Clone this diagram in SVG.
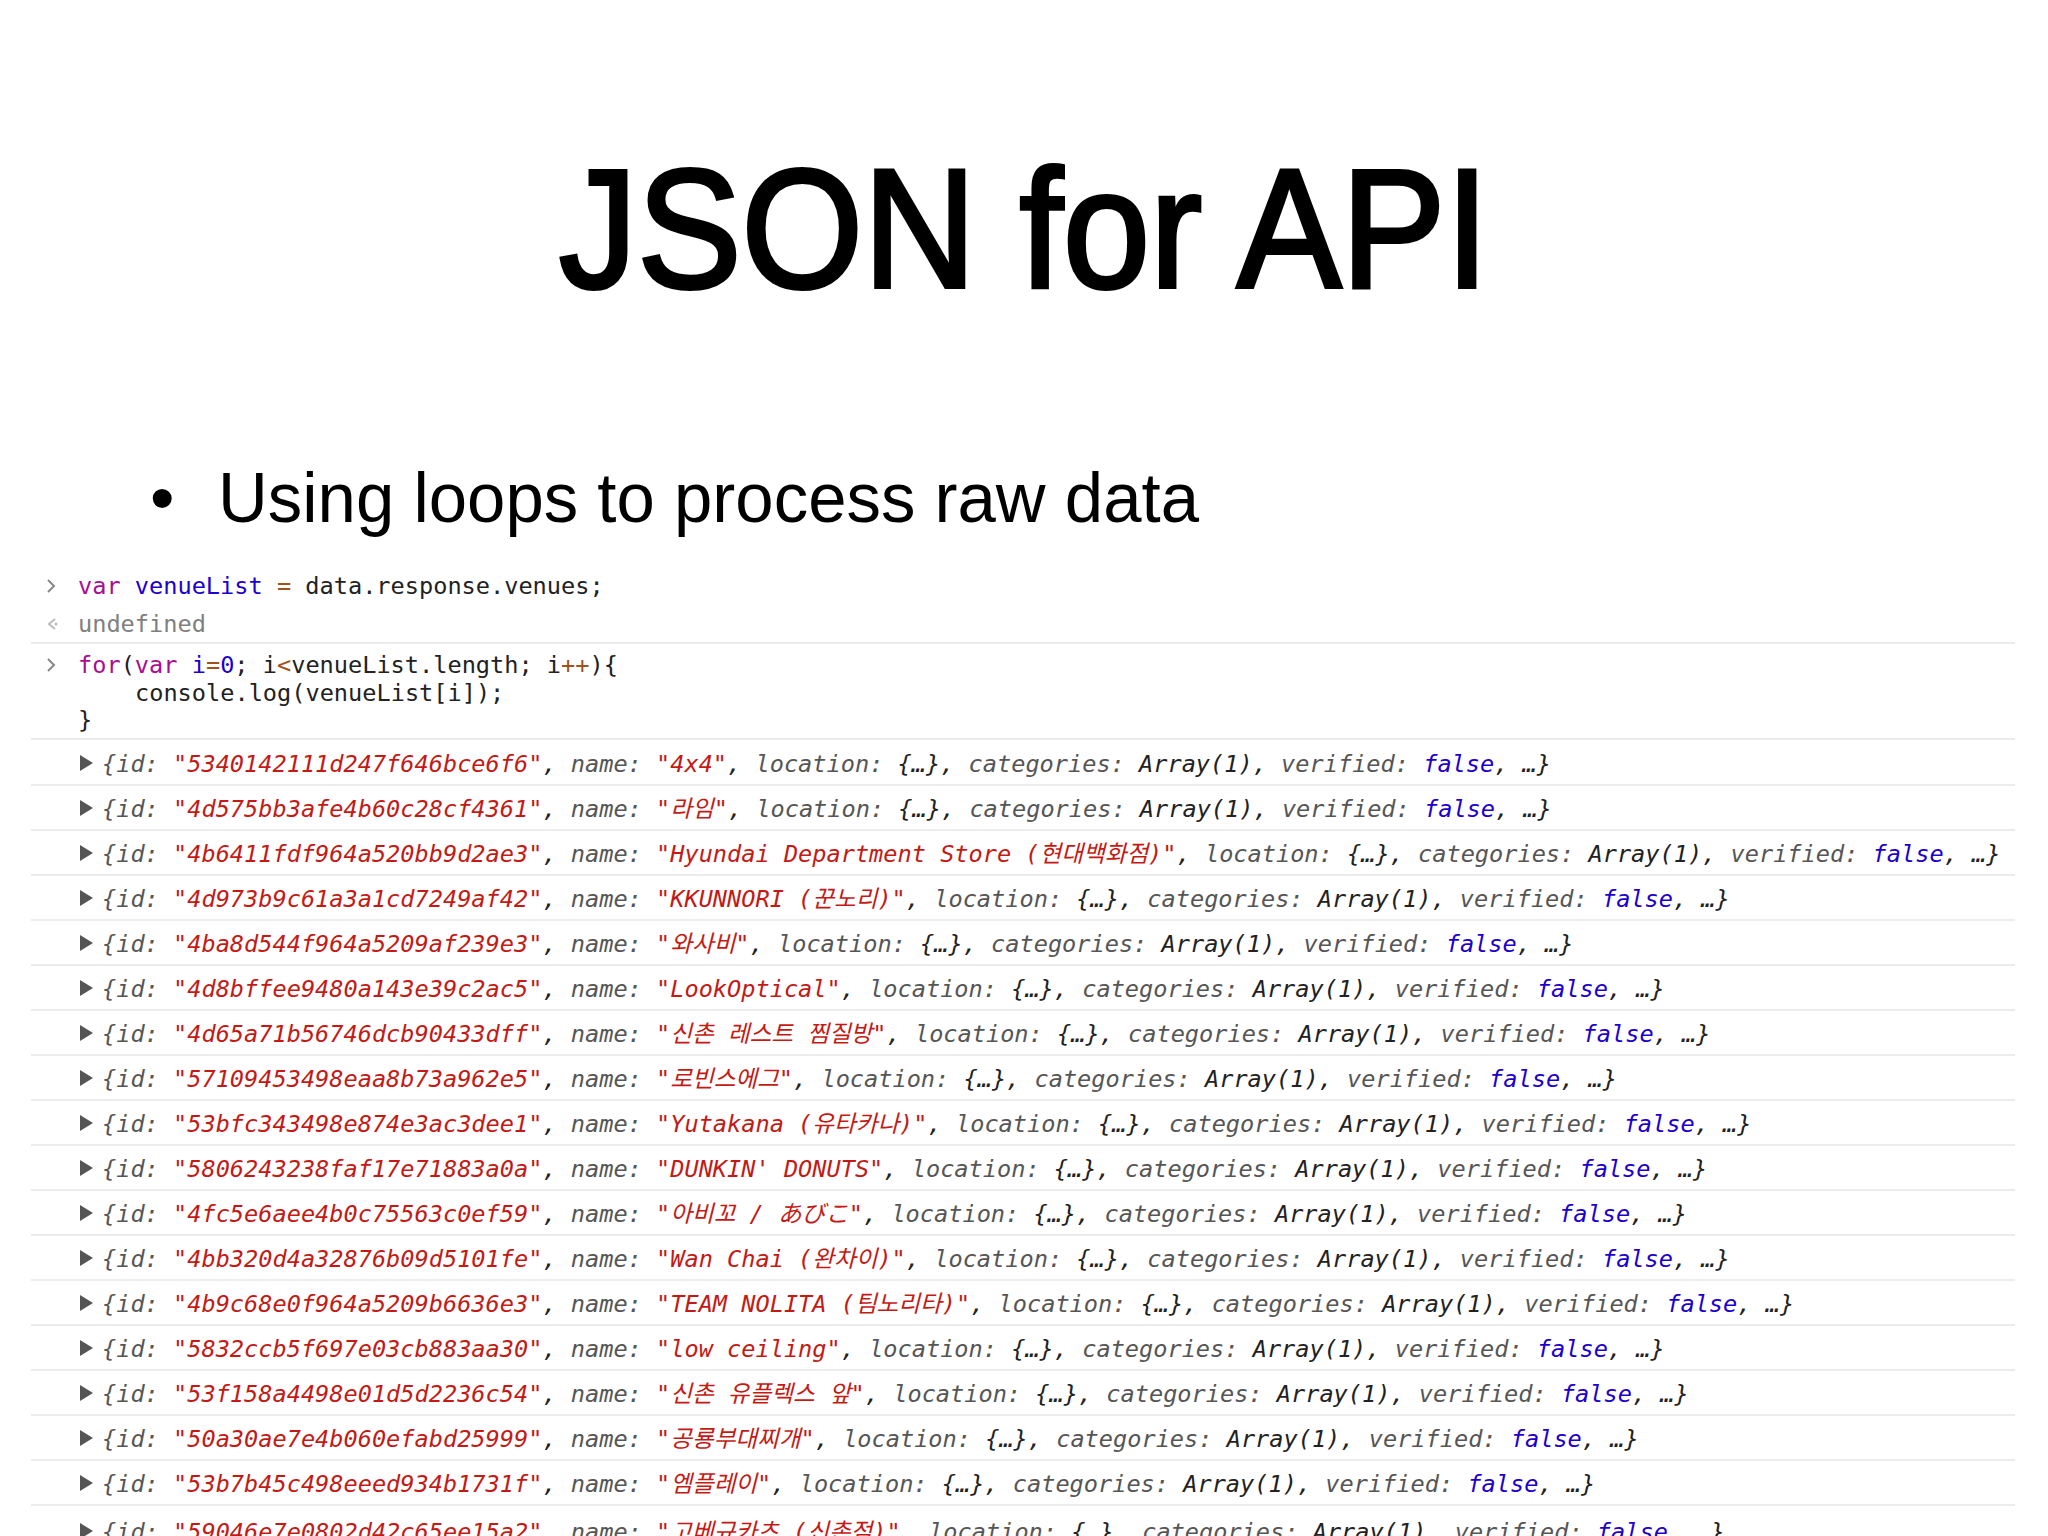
<svg xmlns="http://www.w3.org/2000/svg" width="2048" height="1536" viewBox="0 0 2048 1536">
<style>
.c{font-family:"DejaVu Sans Mono","Noto Sans CJK KR","Noto Sans CJK JP",monospace;font-size:23.6px;fill:#222}
.r{font-style:italic}
.k{fill:#565656}
.s{fill:#c41a16}
.b{fill:#1c00cf}
.p{fill:#aa0d91}
.o{fill:#a0521b}
.g{fill:#808080}
.sep{stroke:#e6e6e6;stroke-width:1.5}
.tri{fill:#555}
</style>
<rect width="2048" height="1536" fill="#fff"/>
<text x="1024" y="287" text-anchor="middle" font-family="Liberation Sans, Arial, sans-serif" font-size="168" textLength="930" lengthAdjust="spacingAndGlyphs" fill="#000" stroke="#000" stroke-width="4">JSON for API</text>
<text x="150" y="522" font-family="Liberation Sans, Arial, sans-serif" font-size="70" fill="#000">•</text>
<text x="218" y="522" font-family="Liberation Sans, Arial, sans-serif" font-size="70" textLength="981" lengthAdjust="spacingAndGlyphs" fill="#000">Using loops to process raw data</text>
<g id="console">
<path d="M48 580l6 6-6 6M48 659l6 6-6 6" fill="none" stroke="#888" stroke-width="2"/>
<path d="M55 619l-6 5 6 5" fill="none" stroke="#bbb" stroke-width="2"/><circle cx="56" cy="624" r="1.5" fill="#bbb"/>
<text class="c" x="78" y="594"><tspan class="p">var</tspan> <tspan class="b">venueList</tspan> <tspan class="o">=</tspan> data.response.venues;</text>
<text class="c g" x="78" y="632">undefined</text>
<line class="sep" x1="31" y1="643" x2="2015" y2="643"/>
<text class="c" x="78" y="673"><tspan class="p">for</tspan>(<tspan class="p">var</tspan> <tspan class="b">i</tspan><tspan class="o">=</tspan><tspan class="b">0</tspan>; i<tspan class="o">&lt;</tspan>venueList.length; i<tspan class="o">++</tspan>){</text>
<text class="c" x="135" y="701">console.log(venueList[i]);</text>
<text class="c" x="78" y="728">}</text>
<line class="sep" x1="31" y1="739" x2="2015" y2="739"/>
</g>
<g id="rows">
<defs><path id="t" d="M0 -17l13 8-13 8z"/></defs>
<g id="r1"><use href="#t" x="80" y="772" class="tri"/><text class="c r" x="102" y="772"><tspan class="k">{id:</tspan> <tspan class="s">"5340142111d247f646bce6f6"</tspan>, <tspan class="k">name:</tspan> <tspan class="s">"4x4"</tspan>, <tspan class="k">location:</tspan> {…}, <tspan class="k">categories:</tspan> Array(1), <tspan class="k">verified:</tspan> <tspan class="b">false</tspan>, …}</text><line class="sep" x1="31" y1="785" x2="2015" y2="785"/></g>
<g id="r2"><use href="#t" x="80" y="817" class="tri"/><text class="c r" x="102" y="817"><tspan class="k">{id:</tspan> <tspan class="s">"4d575bb3afe4b60c28cf4361"</tspan>, <tspan class="k">name:</tspan> <tspan class="s">"라임"</tspan>, <tspan class="k">location:</tspan> {…}, <tspan class="k">categories:</tspan> Array(1), <tspan class="k">verified:</tspan> <tspan class="b">false</tspan>, …}</text><line class="sep" x1="31" y1="830" x2="2015" y2="830"/></g>
<g id="r3"><use href="#t" x="80" y="862" class="tri"/><text class="c r" x="102" y="862"><tspan class="k">{id:</tspan> <tspan class="s">"4b6411fdf964a520bb9d2ae3"</tspan>, <tspan class="k">name:</tspan> <tspan class="s">"Hyundai Department Store (현대백화점)"</tspan>, <tspan class="k">location:</tspan> {…}, <tspan class="k">categories:</tspan> Array(1), <tspan class="k">verified:</tspan> <tspan class="b">false</tspan>, …}</text><line class="sep" x1="31" y1="875" x2="2015" y2="875"/></g>
<g id="r4"><use href="#t" x="80" y="907" class="tri"/><text class="c r" x="102" y="907"><tspan class="k">{id:</tspan> <tspan class="s">"4d973b9c61a3a1cd7249af42"</tspan>, <tspan class="k">name:</tspan> <tspan class="s">"KKUNNORI (꾼노리)"</tspan>, <tspan class="k">location:</tspan> {…}, <tspan class="k">categories:</tspan> Array(1), <tspan class="k">verified:</tspan> <tspan class="b">false</tspan>, …}</text><line class="sep" x1="31" y1="920" x2="2015" y2="920"/></g>
<g id="r5"><use href="#t" x="80" y="952" class="tri"/><text class="c r" x="102" y="952"><tspan class="k">{id:</tspan> <tspan class="s">"4ba8d544f964a5209af239e3"</tspan>, <tspan class="k">name:</tspan> <tspan class="s">"와사비"</tspan>, <tspan class="k">location:</tspan> {…}, <tspan class="k">categories:</tspan> Array(1), <tspan class="k">verified:</tspan> <tspan class="b">false</tspan>, …}</text><line class="sep" x1="31" y1="965" x2="2015" y2="965"/></g>
<g id="r6"><use href="#t" x="80" y="997" class="tri"/><text class="c r" x="102" y="997"><tspan class="k">{id:</tspan> <tspan class="s">"4d8bffee9480a143e39c2ac5"</tspan>, <tspan class="k">name:</tspan> <tspan class="s">"LookOptical"</tspan>, <tspan class="k">location:</tspan> {…}, <tspan class="k">categories:</tspan> Array(1), <tspan class="k">verified:</tspan> <tspan class="b">false</tspan>, …}</text><line class="sep" x1="31" y1="1010" x2="2015" y2="1010"/></g>
<g id="r7"><use href="#t" x="80" y="1042" class="tri"/><text class="c r" x="102" y="1042"><tspan class="k">{id:</tspan> <tspan class="s">"4d65a71b56746dcb90433dff"</tspan>, <tspan class="k">name:</tspan> <tspan class="s">"신촌 레스트 찜질방"</tspan>, <tspan class="k">location:</tspan> {…}, <tspan class="k">categories:</tspan> Array(1), <tspan class="k">verified:</tspan> <tspan class="b">false</tspan>, …}</text><line class="sep" x1="31" y1="1055" x2="2015" y2="1055"/></g>
<g id="r8"><use href="#t" x="80" y="1087" class="tri"/><text class="c r" x="102" y="1087"><tspan class="k">{id:</tspan> <tspan class="s">"57109453498eaa8b73a962e5"</tspan>, <tspan class="k">name:</tspan> <tspan class="s">"로빈스에그"</tspan>, <tspan class="k">location:</tspan> {…}, <tspan class="k">categories:</tspan> Array(1), <tspan class="k">verified:</tspan> <tspan class="b">false</tspan>, …}</text><line class="sep" x1="31" y1="1100" x2="2015" y2="1100"/></g>
<g id="r9"><use href="#t" x="80" y="1132" class="tri"/><text class="c r" x="102" y="1132"><tspan class="k">{id:</tspan> <tspan class="s">"53bfc343498e874e3ac3dee1"</tspan>, <tspan class="k">name:</tspan> <tspan class="s">"Yutakana (유타카나)"</tspan>, <tspan class="k">location:</tspan> {…}, <tspan class="k">categories:</tspan> Array(1), <tspan class="k">verified:</tspan> <tspan class="b">false</tspan>, …}</text><line class="sep" x1="31" y1="1145" x2="2015" y2="1145"/></g>
<g id="r10"><use href="#t" x="80" y="1177" class="tri"/><text class="c r" x="102" y="1177"><tspan class="k">{id:</tspan> <tspan class="s">"5806243238faf17e71883a0a"</tspan>, <tspan class="k">name:</tspan> <tspan class="s">"DUNKIN' DONUTS"</tspan>, <tspan class="k">location:</tspan> {…}, <tspan class="k">categories:</tspan> Array(1), <tspan class="k">verified:</tspan> <tspan class="b">false</tspan>, …}</text><line class="sep" x1="31" y1="1190" x2="2015" y2="1190"/></g>
<g id="r11"><use href="#t" x="80" y="1222" class="tri"/><text class="c r" x="102" y="1222"><tspan class="k">{id:</tspan> <tspan class="s">"4fc5e6aee4b0c75563c0ef59"</tspan>, <tspan class="k">name:</tspan> <tspan class="s">"아비꼬 / あびこ"</tspan>, <tspan class="k">location:</tspan> {…}, <tspan class="k">categories:</tspan> Array(1), <tspan class="k">verified:</tspan> <tspan class="b">false</tspan>, …}</text><line class="sep" x1="31" y1="1235" x2="2015" y2="1235"/></g>
<g id="r12"><use href="#t" x="80" y="1267" class="tri"/><text class="c r" x="102" y="1267"><tspan class="k">{id:</tspan> <tspan class="s">"4bb320d4a32876b09d5101fe"</tspan>, <tspan class="k">name:</tspan> <tspan class="s">"Wan Chai (완차이)"</tspan>, <tspan class="k">location:</tspan> {…}, <tspan class="k">categories:</tspan> Array(1), <tspan class="k">verified:</tspan> <tspan class="b">false</tspan>, …}</text><line class="sep" x1="31" y1="1280" x2="2015" y2="1280"/></g>
<g id="r13"><use href="#t" x="80" y="1312" class="tri"/><text class="c r" x="102" y="1312"><tspan class="k">{id:</tspan> <tspan class="s">"4b9c68e0f964a5209b6636e3"</tspan>, <tspan class="k">name:</tspan> <tspan class="s">"TEAM NOLITA (팀노리타)"</tspan>, <tspan class="k">location:</tspan> {…}, <tspan class="k">categories:</tspan> Array(1), <tspan class="k">verified:</tspan> <tspan class="b">false</tspan>, …}</text><line class="sep" x1="31" y1="1325" x2="2015" y2="1325"/></g>
<g id="r14"><use href="#t" x="80" y="1357" class="tri"/><text class="c r" x="102" y="1357"><tspan class="k">{id:</tspan> <tspan class="s">"5832ccb5f697e03cb883aa30"</tspan>, <tspan class="k">name:</tspan> <tspan class="s">"low ceiling"</tspan>, <tspan class="k">location:</tspan> {…}, <tspan class="k">categories:</tspan> Array(1), <tspan class="k">verified:</tspan> <tspan class="b">false</tspan>, …}</text><line class="sep" x1="31" y1="1370" x2="2015" y2="1370"/></g>
<g id="r15"><use href="#t" x="80" y="1402" class="tri"/><text class="c r" x="102" y="1402"><tspan class="k">{id:</tspan> <tspan class="s">"53f158a4498e01d5d2236c54"</tspan>, <tspan class="k">name:</tspan> <tspan class="s">"신촌 유플렉스 앞"</tspan>, <tspan class="k">location:</tspan> {…}, <tspan class="k">categories:</tspan> Array(1), <tspan class="k">verified:</tspan> <tspan class="b">false</tspan>, …}</text><line class="sep" x1="31" y1="1415" x2="2015" y2="1415"/></g>
<g id="r16"><use href="#t" x="80" y="1447" class="tri"/><text class="c r" x="102" y="1447"><tspan class="k">{id:</tspan> <tspan class="s">"50a30ae7e4b060efabd25999"</tspan>, <tspan class="k">name:</tspan> <tspan class="s">"공룡부대찌개"</tspan>, <tspan class="k">location:</tspan> {…}, <tspan class="k">categories:</tspan> Array(1), <tspan class="k">verified:</tspan> <tspan class="b">false</tspan>, …}</text><line class="sep" x1="31" y1="1460" x2="2015" y2="1460"/></g>
<g id="r17"><use href="#t" x="80" y="1492" class="tri"/><text class="c r" x="102" y="1492"><tspan class="k">{id:</tspan> <tspan class="s">"53b7b45c498eeed934b1731f"</tspan>, <tspan class="k">name:</tspan> <tspan class="s">"엠플레이"</tspan>, <tspan class="k">location:</tspan> {…}, <tspan class="k">categories:</tspan> Array(1), <tspan class="k">verified:</tspan> <tspan class="b">false</tspan>, …}</text><line class="sep" x1="31" y1="1505" x2="2015" y2="1505"/></g>
<g id="r18"><use href="#t" x="80" y="1540" class="tri"/><text class="c r" x="102" y="1540"><tspan class="k">{id:</tspan> <tspan class="s">"59046e7e0802d42c65ee15a2"</tspan>, <tspan class="k">name:</tspan> <tspan class="s">"고베규카츠 (신촌점)"</tspan>, <tspan class="k">location:</tspan> {…}, <tspan class="k">categories:</tspan> Array(1), <tspan class="k">verified:</tspan> <tspan class="b">false</tspan>, …}</text></g>
</g>
</svg>
